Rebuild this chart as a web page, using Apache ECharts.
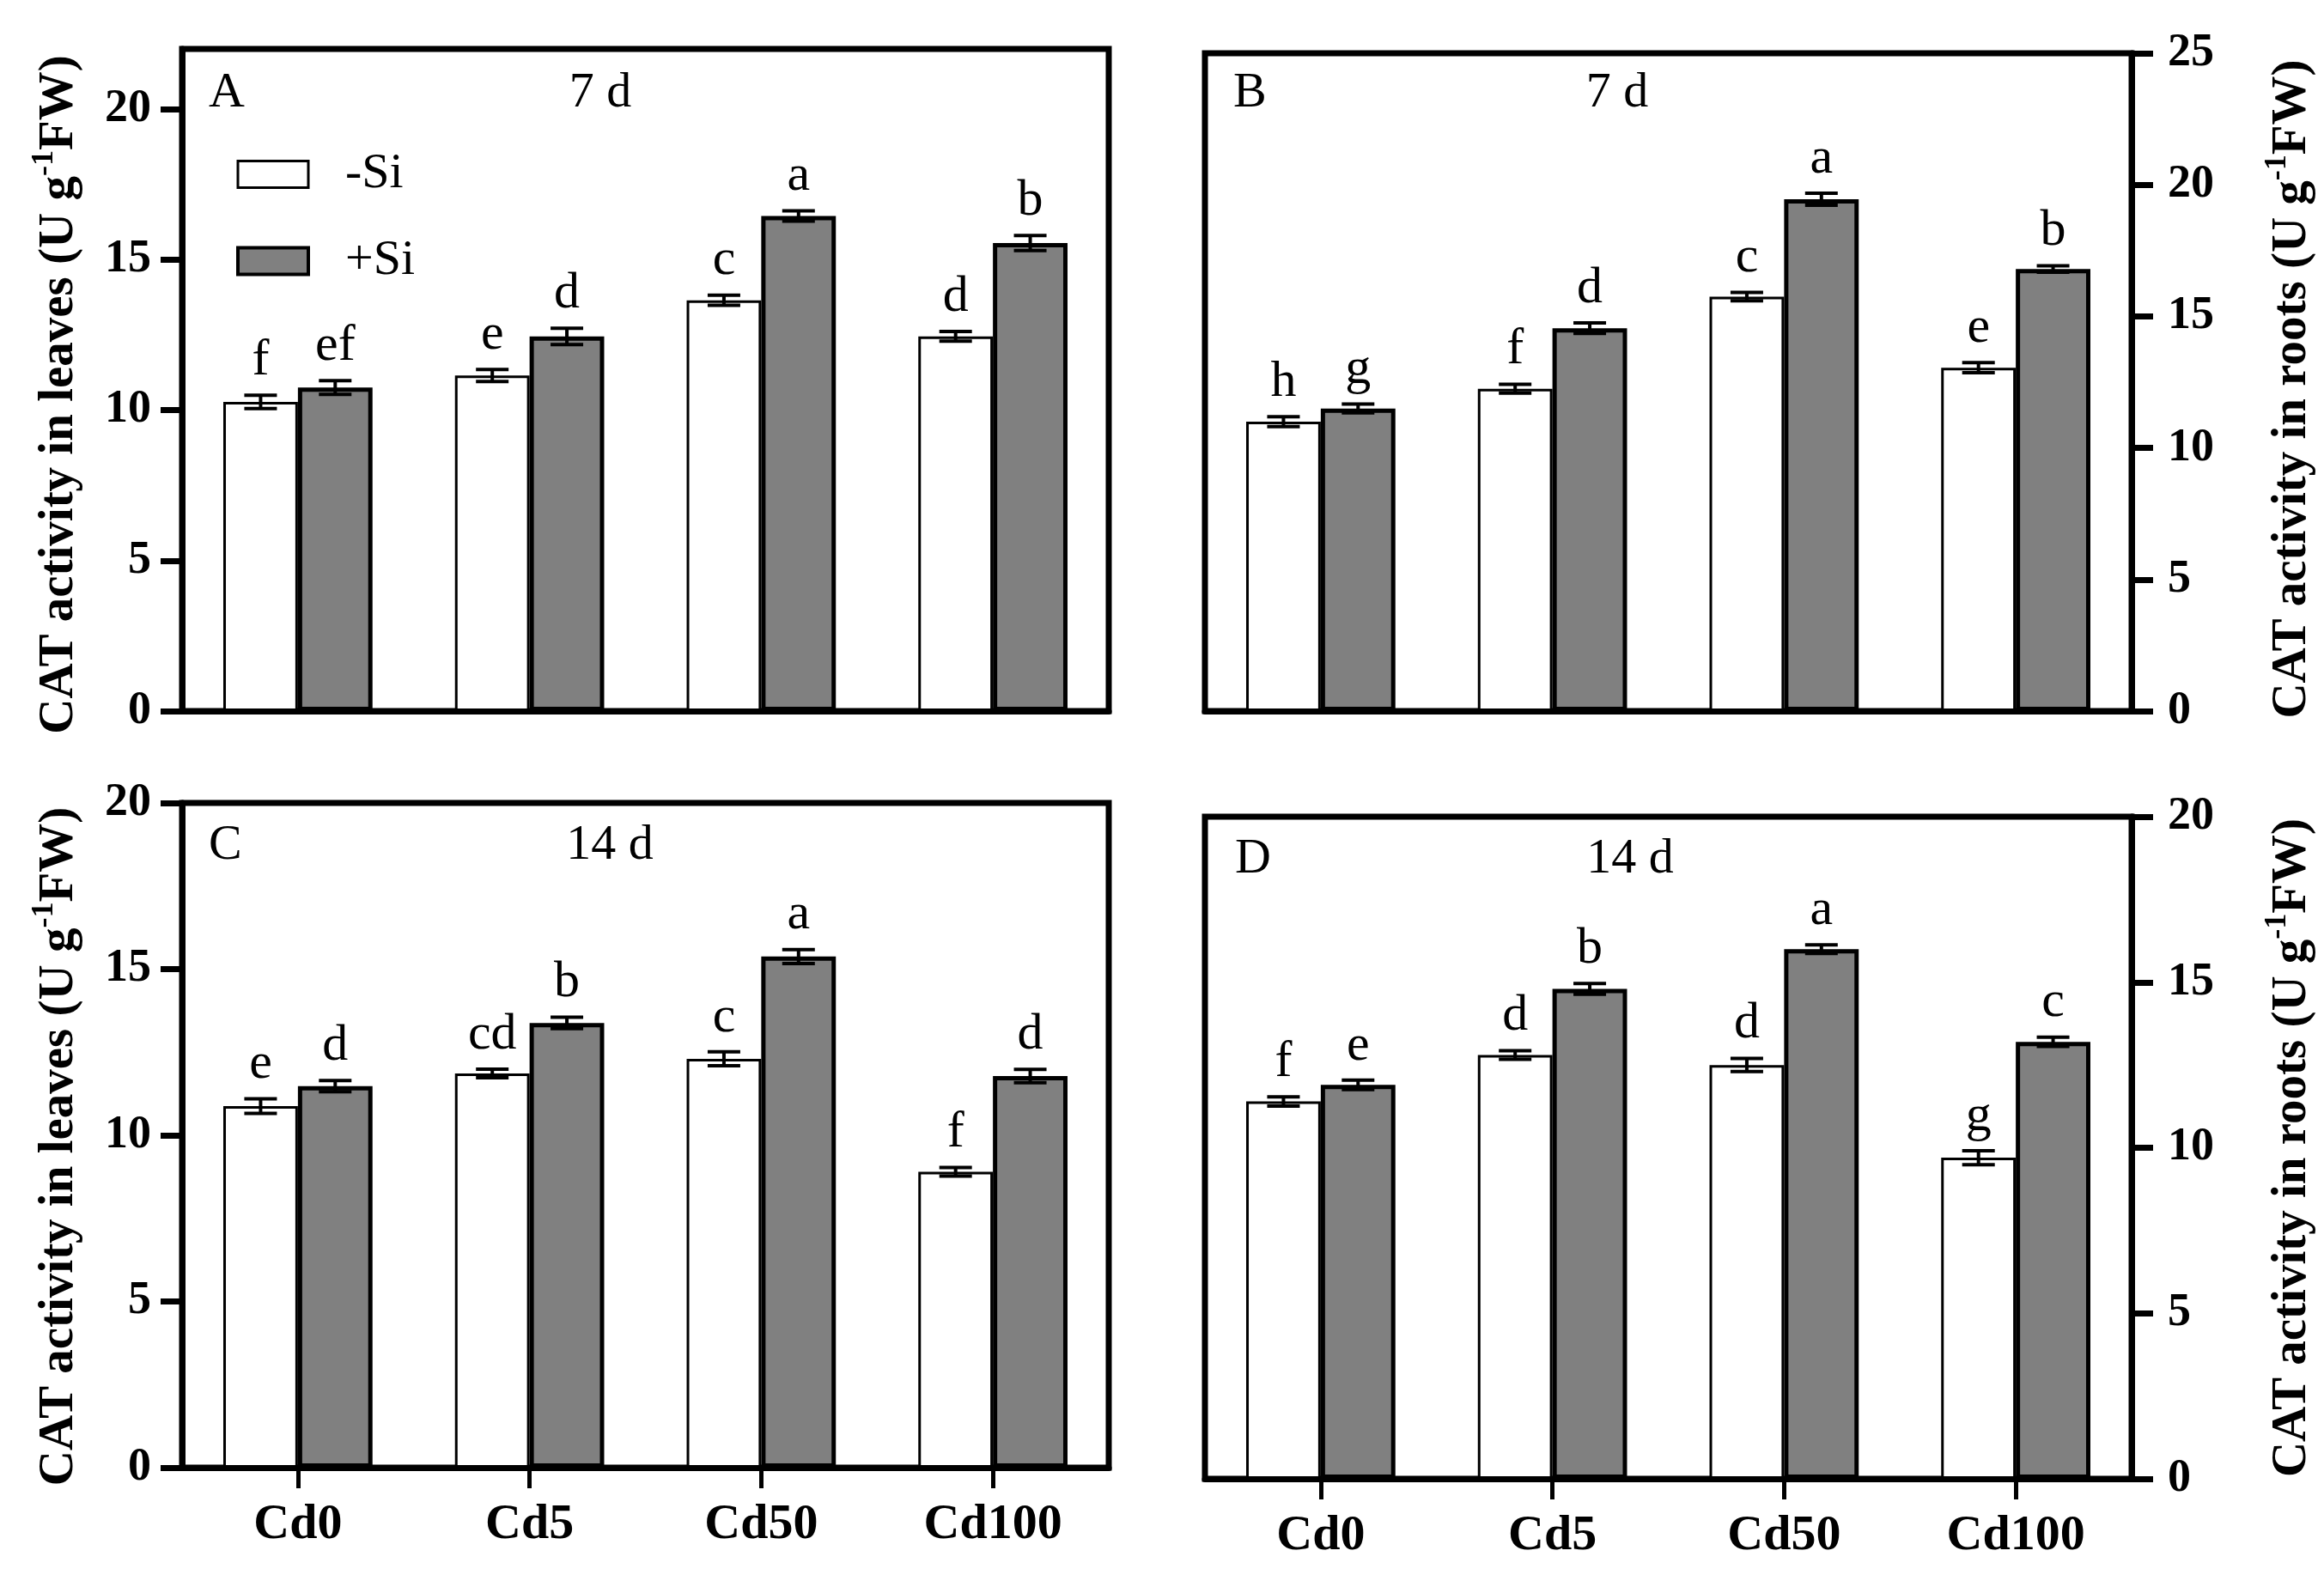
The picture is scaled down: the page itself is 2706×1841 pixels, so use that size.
<!DOCTYPE html>
<html>
<head>
<meta charset="utf-8">
<script src="https://cdn.jsdelivr.net/npm/echarts@6/dist/echarts.min.js"></script>
<style>
html,body{margin:0;padding:0;background:#fff;}
#chart{width:2706px;height:1841px;}
</style>
</head>
<body>
<div id="chart"></div>
<script>
// ---------- data ----------
const categories = ['Cd0', 'Cd5', 'Cd50', 'Cd100'];
const seriesNames = ['-Si', '+Si'];

// Panel A: leaves, 7 d
const A_minusSi = [10.27, 11.15, 13.65, 12.45];
const A_minusSi_err = [0.22, 0.20, 0.17, 0.16];
const A_minusSi_letters = ['f', 'e', 'c', 'd'];
const A_plusSi = [10.75, 12.45, 16.45, 15.55];
const A_plusSi_err = [0.23, 0.27, 0.17, 0.25];
const A_plusSi_letters = ['ef', 'd', 'a', 'b'];

// Panel B: roots, 7 d
const B_minusSi = [11.0, 12.25, 15.75, 13.05];
const B_minusSi_err = [0.19, 0.17, 0.16, 0.19];
const B_minusSi_letters = ['h', 'f', 'c', 'e'];
const B_plusSi = [11.5, 14.55, 19.45, 16.8];
const B_plusSi_err = [0.17, 0.20, 0.23, 0.12];
const B_plusSi_letters = ['g', 'd', 'a', 'b'];

// Panel C: leaves, 14 d
const C_minusSi = [10.88, 11.86, 12.3, 8.9];
const C_minusSi_err = [0.22, 0.13, 0.21, 0.13];
const C_minusSi_letters = ['e', 'cd', 'c', 'f'];
const C_plusSi = [11.48, 13.38, 15.38, 11.78];
const C_plusSi_err = [0.17, 0.17, 0.21, 0.20];
const C_plusSi_letters = ['d', 'b', 'a', 'd'];

// Panel D: roots, 14 d
const D_minusSi = [11.4, 12.8, 12.5, 9.7];
const D_minusSi_err = [0.14, 0.13, 0.20, 0.21];
const D_minusSi_letters = ['f', 'd', 'd', 'g'];
const D_plusSi = [11.9, 14.8, 16.0, 13.2];
const D_plusSi_err = [0.14, 0.16, 0.13, 0.14];
const D_plusSi_letters = ['e', 'b', 'a', 'c'];

const A_ticks = [0, 5, 10, 15, 20];
const B_ticks = [0, 5, 10, 15, 20, 25];
const C_ticks = [0, 5, 10, 15, 20];
const D_ticks = [0, 5, 10, 15, 20];

// ---------- style ----------
const FONT = '"Liberation Serif", "Times New Roman", serif';
const GRAY = '#808080';
const AXW = 7;
const BARW_FRAC = 0.322;

const panels = [
  {key:'A', grid:{left:212, top:57, width:1079, height:771}, max:22, ticks:A_ticks, side:'left',
   title:'leaves', labels:false, namePad:34,
   data:[[A_minusSi, A_minusSi_err, A_minusSi_letters],[A_plusSi, A_plusSi_err, A_plusSi_letters]]},
  {key:'B', grid:{left:1403, top:62, width:1079, height:766}, max:25, ticks:B_ticks, side:'right',
   title:'roots', labels:false, namePad:16,
   data:[[B_minusSi, B_minusSi_err, B_minusSi_letters],[B_plusSi, B_plusSi_err, B_plusSi_letters]]},
  {key:'C', grid:{left:212, top:935, width:1079, height:774}, max:20, ticks:C_ticks, side:'left',
   title:'leaves', labels:true, namePad:26,
   data:[[C_minusSi, C_minusSi_err, C_minusSi_letters],[C_plusSi, C_plusSi_err, C_plusSi_letters]]},
  {key:'D', grid:{left:1403, top:951, width:1079, height:771}, max:20, ticks:D_ticks, side:'right',
   title:'roots', labels:true, namePad:0,
   data:[[D_minusSi, D_minusSi_err, D_minusSi_letters],[D_plusSi, D_plusSi_err, D_plusSi_letters]]}
];

const grids = [], xAxes = [], yAxes = [], series = [];

panels.forEach((p, i) => {
  grids.push(Object.assign({show:true, borderColor:'#000', borderWidth:AXW, backgroundColor:'transparent', containLabel:false}, p.grid));
  xAxes.push({
    type:'category', gridIndex:i, data:categories, z:5,
    axisLine:{show:true, lineStyle:{color:'#000', width:AXW}},
    axisTick:{show:p.labels, alignWithLabel:true, length:24, lineStyle:{color:'#000', width:5}},
    axisLabel:{show:p.labels, fontFamily:FONT, fontSize:58, fontWeight:'bold', color:'#000', margin:38}
  });
  const left = p.side === 'left';
  yAxes.push({
    type:'value', gridIndex:i, min:0, max:p.max, interval:5, position:p.side, z:5,
    splitLine:{show:false},
    axisLine:{show:true, lineStyle:{color:'#000', width:AXW}},
    axisTick:{show:true, inside:false, length:25, lineStyle:{color:'#000', width:AXW}, customValues:p.ticks},
    axisLabel:{fontFamily:FONT, fontSize:54, fontWeight:'bold', color:'#000',
      margin: left ? 36 : 42, customValues:p.ticks},
    name:'{t|CAT activity in ' + p.title + ' (U g}{s|-1}{t|FW)}',
    nameLocation:'middle', nameRotate:90,
    nameGap: left ? 114 : 152,
    nameTextStyle:{
      padding:[0, p.namePad, 0, 0],
      rich:{
        t:{fontFamily:FONT, fontSize:57, fontWeight:'bold', color:'#000', lineHeight:64, verticalAlign:'bottom'},
        s:{fontFamily:FONT, fontSize:36, fontWeight:'bold', color:'#000', lineHeight:64, verticalAlign:'top'}
      }
    }
  });

  p.data.forEach((d, k) => {
    const vals = d[0], errs = d[1], letters = d[2];
    const plus = k === 1;
    series.push({
      type:'bar', name:seriesNames[k], xAxisIndex:i, yAxisIndex:i,
      data:vals, barWidth:(BARW_FRAC*100)+'%', barGap:'0%',
      itemStyle:{color: plus ? GRAY : '#fff', borderColor:'#000', borderWidth: plus ? 5 : 3},
      emphasis:{disabled:true}, animation:false, z:2
    });
    series.push({
      type:'custom', name:seriesNames[k] + ' err', xAxisIndex:i, yAxisIndex:i,
      data: vals.map((v, j) => [j, v, errs[j]]),
      animation:false, z:4, silent:true,
      renderItem:function(params, api){
        const j = api.value(0), v = api.value(1), e = api.value(2);
        const band = api.size([1, 0])[0];
        const bw = band * BARW_FRAC;
        const off = plus ? bw/2 : -bw/2;
        const top = api.coord([j, v + e]);
        const bot = api.coord([j, v - e]);
        const x = top[0] + off;
        const cap = 19;
        const ls = {stroke:'#000', lineWidth:4};
        return {type:'group', children:[
          {type:'line', shape:{x1:x, y1:top[1], x2:x, y2:bot[1]}, style:ls},
          {type:'line', shape:{x1:x-cap, y1:top[1], x2:x+cap, y2:top[1]}, style:ls},
          {type:'line', shape:{x1:x-cap, y1:bot[1], x2:x+cap, y2:bot[1]}, style:ls},
          {type:'text', style:{text:letters[params.dataIndex], x:x, y:top[1]-10, textAlign:'center', textVerticalAlign:'bottom',
            font:'60px ' + FONT, fill:'#000'}}
        ]};
      }
    });
  });
});

const texts = [
  ['A', 243, 109, 'left'], ['7 d', 699, 109, 'center'],
  ['B', 1436, 109, 'left'], ['7 d', 1883, 109, 'center'],
  ['C', 243, 985, 'left'], ['14 d', 710, 985, 'center'],
  ['D', 1438, 1001, 'left'], ['14 d', 1898, 1001, 'center']
];

const option = {
  backgroundColor:'#fff',
  animation:false,
  grid:grids, xAxis:xAxes, yAxis:yAxes, series:series,
  legend:{
    show:true, orient:'vertical', left:270, top:169,
    itemWidth:82, itemHeight:31, itemGap:43,
    selectedMode:false,
    textStyle:{fontFamily:FONT, fontSize:58, color:'#000', lineHeight:31, padding:[0,0,0,38]},
    data:[
      {name:'-Si', icon:'rect', itemStyle:{color:'#fff', borderColor:'#000', borderWidth:3}},
      {name:'+Si', icon:'rect', itemStyle:{color:GRAY, borderColor:'#000', borderWidth:4}}
    ]
  },
  graphic: texts.map(t => ({
    type:'text', z:10, silent:true,
    style:{text:t[0], x:t[1], y:t[2], textAlign:t[3], textVerticalAlign:'middle', font:'58px ' + FONT, fill:'#000'}
  }))
};

const chart = echarts.init(document.getElementById('chart'), null, {renderer:'canvas'});
chart.setOption(option);
</script>
</body>
</html>
